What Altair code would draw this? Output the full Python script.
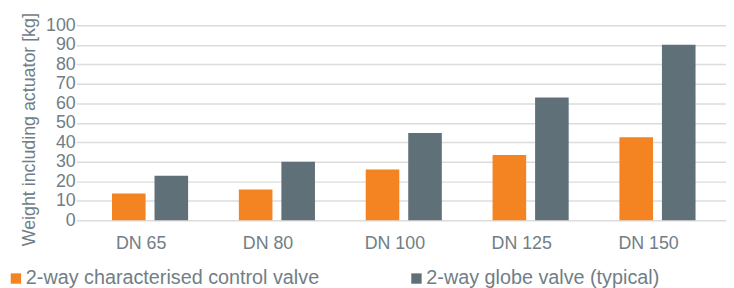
import altair as alt
import pandas as pd

categories = ["DN 65", "DN 80", "DN 100", "DN 125", "DN 150"]
series_names = ["2-way characterised control valve", "2-way globe valve (typical)"]
control_valve = [13.7, 15.7, 26, 33.5, 42.6]
globe_valve = [22.8, 30, 44.7, 63, 90]
y_ticks = [0, 10, 20, 30, 40, 50, 60, 70, 80, 90, 100]

rows = []
for c, a, b in zip(categories, control_valve, globe_valve):
    rows.append({"size": c, "series": series_names[0], "weight": a})
    rows.append({"size": c, "series": series_names[1], "weight": b})
df = pd.DataFrame(rows)

TEXT = "#717e86"
FONT = "Liberation Sans"

chart = alt.Chart(df).mark_bar().encode(
    x=alt.X("size:N", sort=categories,
            scale=alt.Scale(paddingInner=0.4, paddingOuter=0.261, align=0.54),
            axis=alt.Axis(title=None, ticks=False, tickSize=0, domain=False,
                          labelAngle=0, labelFontSize=18, labelColor=TEXT,
                          labelFont=FONT, labelBaseline="alphabetic",
                          labelPadding=29, labelOffset=-9, grid=False)),
    xOffset=alt.XOffset("series:N", sort=series_names,
                        scale=alt.Scale(paddingInner=0.21, paddingOuter=0)),
    y=alt.Y("weight:Q",
            scale=alt.Scale(domain=[0, 100], nice=False),
            axis=alt.Axis(values=y_ticks, title="Weight including actuator [kg]",
                          ticks=False, tickSize=0, domain=False,
                          labelFontSize=18, labelColor=TEXT, labelFont=FONT,
                          labelPadding=1, labelBaseline="middle",
                          titleFontSize=18, titleColor=TEXT, titleFont=FONT,
                          titleFontWeight="normal", titleAngle=270,
                          titleBaseline="alphabetic", titleAlign="center",
                          titleX=-42, titleY=105,
                          grid=True, gridColor="#dcdcdc", gridWidth=1.5)),
    color=alt.Color("series:N", sort=series_names,
                    scale=alt.Scale(domain=series_names, range=["#f48322", "#607079"]),
                    legend=alt.Legend(title=None, orient="none", legendX=-71, legendY=246,
                                      direction="horizontal", symbolType="square",
                                      symbolSize=110, symbolStrokeWidth=0,
                                      labelFontSize=20, labelColor=TEXT, labelFont=FONT,
                                      labelOffset=0, labelLimit=500, columnPadding=88)),
).properties(
    width=657, height=197,
    autosize=alt.AutoSizeParams(type="none"),
    padding={"left": 69, "top": 16, "right": 0, "bottom": 67},
).configure_view(stroke=None)

chart.save("out.html", embed_options={"renderer": "svg", "actions": False})
